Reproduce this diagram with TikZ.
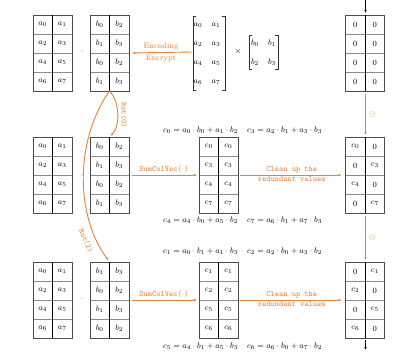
\documentclass[tikz,border=0pt]{standalone}
\usepackage{xcolor}
\definecolor{flowOrange}{HTML}{E3823A}
\definecolor{gridGray}{HTML}{8C8C8C}
\usepackage{tikz}
\usetikzlibrary{arrows.meta}
\tikzset{
  mcell/.style={
    draw=gridGray,
    line width=0.6pt,
    minimum width=19.5pt,
    minimum height=19pt,
    inner sep=0pt,
    outer sep=0pt,
    font=\footnotesize
  },
  mframe/.style={
    minimum width=39pt,
    minimum height=76pt,
    inner sep=0pt,
    outer sep=0pt
  },
  mborder/.style={draw=black!70, line width=0.7pt},
  midline/.style={draw=black, line width=0.6pt},
  flowline/.style={
    draw=flowOrange,
    -{Latex[length=3pt,width=2.6pt]},
    line width=0.9pt
  },
  flowlabel/.style={text=flowOrange, font=\footnotesize, inner sep=2pt},
  eqlabel/.style={font=\footnotesize, anchor=west, inner sep=0pt},
  entry/.style={font=\footnotesize, inner sep=0pt},
  bracket/.style={draw=black!80, line width=0.6pt},
  feedline/.style={
    draw=black,
    -{Latex[length=3pt,width=2.6pt]},
    line width=0.6pt
  }
}
% one 4x2 block of cells: name, centre, rows as left/right
\newcommand{\cellgrid}[3]{%
  \node[mframe] (#1) at (#2) {};
  \foreach \lft/\rgt [count=\row] in {#3}{
    \node[mcell, anchor=north east] (#1-\row-1) at ([yshift={-(\row-1)*19pt}]#1.north) {$\lft$};
    \node[mcell, anchor=north west] (#1-\row-2) at ([yshift={-(\row-1)*19pt}]#1.north) {$\rgt$};
  }
  \draw[mborder] (#1.south west) rectangle (#1.north east);
  \draw[midline] (#1.north) -- (#1.south);
}

\begin{document}
\begin{tikzpicture}[x=1pt,y=-1pt]
  \useasboundingbox (0,0) rectangle (420,361);

  % first row: encoding
  \cellgrid{a1}{52.5,53}{a_0/a_1, a_2/a_3, a_4/a_5, a_6/a_7}
  \cellgrid{b1}{109.5,53}{b_0/b_2, b_1/b_3, b_0/b_2, b_1/b_3}
  \cellgrid{r1}{365,53}{0/0, 0/0, 0/0, 0/0}
  \node[font=\footnotesize] (dot1) at (82,52) {$\cdot$};
  % plain matrices with brackets
  \foreach \lft/\rgt [count=\row] in {a_0/a_1, a_2/a_3, a_4/a_5, a_6/a_7}{
    \node[entry] (am-\row-1) at (198,{6+19*\row}) {$\lft$};
    \node[entry] (am-\row-2) at (216,{6+19*\row}) {$\rgt$};
  }
  \draw[bracket] (196,16) -- (193,16) -- (193,90) -- (196,90);
  \draw[bracket] (222,16) -- (225,16) -- (225,90) -- (222,90);
  \coordinate (amat) at (193,52);
  \node[entry] (times) at (238,52) {$\times$};
  \foreach \lft/\rgt [count=\row] in {b_0/b_1, b_2/b_3}{
    \node[entry] (bm-\row-1) at (255,{24+19*\row}) {$\lft$};
    \node[entry] (bm-\row-2) at (272,{24+19*\row}) {$\rgt$};
  }
  \draw[bracket] (252,35) -- (249,35) -- (249,69) -- (252,69);
  \draw[bracket] (275,35) -- (278,35) -- (278,69) -- (275,69);
  \draw[flowline, shorten <=1pt, shorten >=3pt] (amat) -- (b1.east)
    node[flowlabel, midway, above] {Encoding}
    node[flowlabel, midway, below] {Encrypt};

  % second row: Rot(0)
  \cellgrid{a2}{52.5,175}{a_0/a_1, a_2/a_3, a_4/a_5, a_6/a_7}
  \cellgrid{b2}{109.5,175}{b_0/b_2, b_1/b_3, b_0/b_2, b_1/b_3}
  \cellgrid{c2}{218.5,175}{c_0/c_0, c_3/c_3, c_4/c_4, c_7/c_7}
  \cellgrid{r2}{365,175}{c_0/0, 0/c_3, c_4/0, 0/c_7}
  \node[font=\footnotesize] (dot2) at (82,176) {$\cdot$};
  \node[eqlabel] (eq0) at (163,130) {$c_0 = a_0 \cdot b_0 + a_1 \cdot b_2$};
  \node[eqlabel] (eq3) at (247,130) {$c_3 = a_2 \cdot b_1 + a_3 \cdot b_3$};
  \node[eqlabel] (eq4) at (163,220) {$c_4 = a_4 \cdot b_0 + a_5 \cdot b_2$};
  \node[eqlabel] (eq7) at (247,220) {$c_7 = a_6 \cdot b_1 + a_7 \cdot b_3$};
  \draw[flowline, shorten <=3pt, shorten >=2pt] (b2.east) -- (c2.west)
    node[flowlabel, midway, above] {\texttt{SumColVec($\cdot$)}};
  \draw[flowline, shorten <=2pt, shorten >=4pt] (c2.east) -- (r2.west)
    node[flowlabel, midway, above, inner sep=1pt] {\texttt{Clean up the}}
    node[flowlabel, midway, below, inner sep=1pt] {\texttt{redundant values}};

  % third row: Rot(2)
  \cellgrid{a3}{52.5,300}{a_0/a_1, a_2/a_3, a_4/a_5, a_6/a_7}
  \cellgrid{b3}{109.5,300}{b_1/b_3, b_0/b_2, b_1/b_3, b_0/b_2}
  \cellgrid{c3}{218.5,300}{c_1/c_1, c_2/c_2, c_5/c_5, c_6/c_6}
  \cellgrid{r3}{365,300}{0/c_1, c_2/0, 0/c_5, c_6/0}
  \node[font=\footnotesize] (dot3) at (82,299) {$\cdot$};
  \node[eqlabel] (eq1) at (163,251) {$c_1 = a_0 \cdot b_1 + a_1 \cdot b_3$};
  \node[eqlabel] (eq2) at (247,251) {$c_2 = a_2 \cdot b_0 + a_3 \cdot b_2$};
  \node[eqlabel] (eq5) at (163,346) {$c_5 = a_4 \cdot b_1 + a_5 \cdot b_3$};
  \node[eqlabel] (eq6) at (247,346) {$c_6 = a_6 \cdot b_0 + a_7 \cdot b_2$};
  \draw[flowline, shorten <=3pt, shorten >=2pt] (b3.east) -- (c3.west)
    node[flowlabel, midway, above] {\texttt{SumColVec($\cdot$)}};
  \draw[flowline, shorten <=2pt, shorten >=4pt] (c3.east) -- (r3.west)
    node[flowlabel, midway, above, inner sep=1pt] {\texttt{Clean up the}}
    node[flowlabel, midway, below, inner sep=1pt] {\texttt{redundant values}};

  % rotations
  \draw[flowline, shorten >=1.5pt] (b1.south) .. controls (119,100) and (121,125) .. (b2.north);
  \node[flowlabel, rotate=-90] (rot0) at (124,115) {\texttt{Rot(0)}};
  \draw[flowline, shorten >=2pt] (b1.south) .. controls (75,140) and (75,215) .. (b3.north);
  \node[flowlabel, rotate=-66, inner sep=0pt] (rot2) at (86,241) {\texttt{Rot(2)}};

  % accumulation on the right
  \coordinate (accin) at (365.5,0);
  \coordinate (accout) at (365.5,350);
  \draw[feedline, shorten >=2pt] (accin) -- (r1.north -| accin);
  \draw[flowline, line width=1.2pt, shorten <=3pt, shorten >=2pt] (r1.south -| accin) -- (r2.north -| accin)
    node[flowlabel, midway, right, inner sep=3pt] {$\ominus$};
  \draw[flowline, line width=1.2pt, shorten <=3pt, shorten >=2pt] (r2.south -| accin) -- (r3.north -| accin)
    node[flowlabel, midway, right, inner sep=3pt] {$\ominus$};
  \draw[feedline, shorten <=2pt] (r3.south -| accout) -- (accout);
\end{tikzpicture}
\end{document}
